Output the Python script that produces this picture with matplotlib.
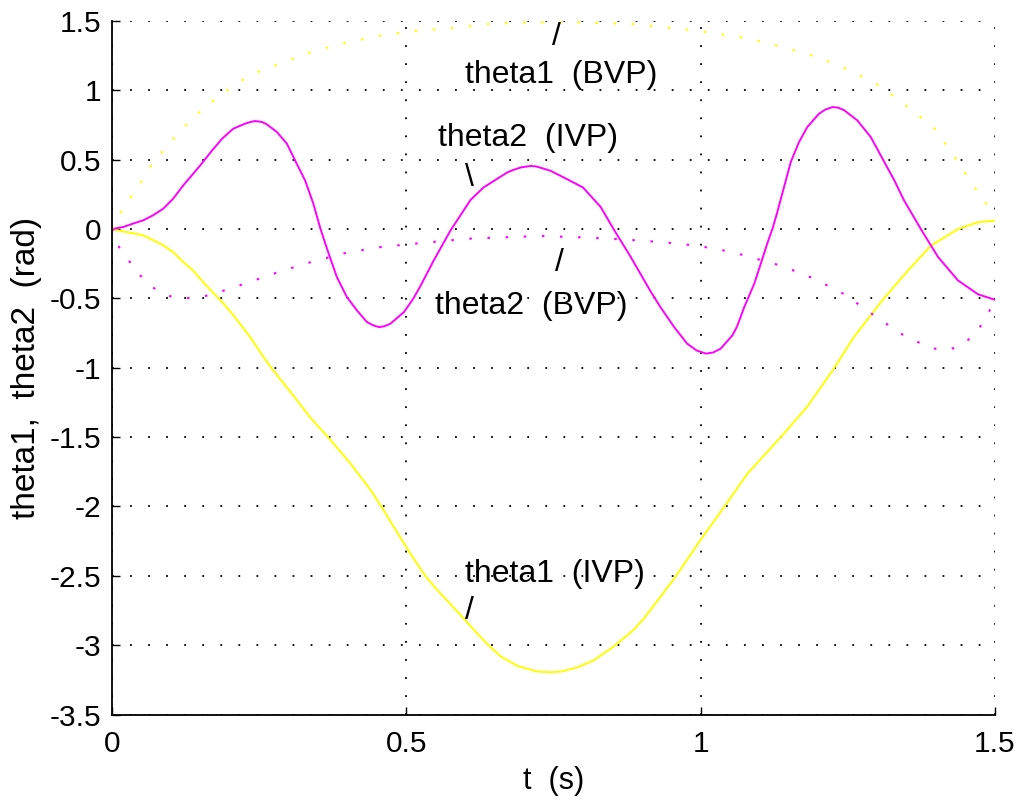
import numpy as np
import matplotlib
matplotlib.use('Agg')
import matplotlib.pyplot as plt

plt.rcParams['font.family'] = ['Liberation Sans', 'DejaVu Sans']

# joint angles from the two solutions (t in s, angles in rad)
t_th1_ivp = [0.000, 0.019, 0.036, 0.053, 0.070, 0.087, 0.104, 0.121, 0.138, 0.155,
             0.172, 0.190, 0.206, 0.235, 0.257, 0.274, 0.308, 0.337, 0.371, 0.405,
             0.439, 0.459, 0.479, 0.498, 0.513, 0.524, 0.535, 0.552, 0.575, 0.598,
             0.617, 0.637, 0.660, 0.689, 0.722, 0.745, 0.764, 0.790, 0.818, 0.852,
             0.886, 0.905, 0.955, 1.000, 1.037, 1.080, 1.136, 1.181, 1.224, 1.260,
             1.311, 1.352, 1.391, 1.437, 1.471, 1.500]
th1_ivp = [0.00, -0.017, -0.03, -0.045, -0.08, -0.117, -0.166, -0.238, -0.30, -0.383,
           -0.46, -0.54, -0.62, -0.78, -0.92, -1.02, -1.20, -1.36, -1.52, -1.69,
           -1.88, -2.01, -2.15, -2.28, -2.38, -2.45, -2.515, -2.60, -2.705, -2.81,
           -2.90, -2.99, -3.08, -3.15, -3.19, -3.195, -3.19, -3.16, -3.11, -3.01,
           -2.89, -2.80, -2.52, -2.24, -2.02, -1.76, -1.50, -1.28, -1.02, -0.78,
           -0.50, -0.30, -0.12, 0.00, 0.05, 0.06]

t_th2_ivp = [0.000, 0.019, 0.036, 0.053, 0.070, 0.087, 0.104, 0.121, 0.133, 0.150,
             0.170, 0.187, 0.206, 0.226, 0.235, 0.243, 0.255, 0.263, 0.280, 0.297,
             0.311, 0.328, 0.342, 0.354, 0.368, 0.382, 0.399, 0.416, 0.433, 0.444,
             0.454, 0.463, 0.473, 0.496, 0.512, 0.524, 0.546, 0.575, 0.609, 0.631,
             0.672, 0.684, 0.695, 0.711, 0.720, 0.730, 0.745, 0.773, 0.800, 0.830,
             0.852, 0.881, 0.915, 0.932, 0.955, 0.977, 0.993, 1.009, 1.021, 1.034,
             1.054, 1.062, 1.074, 1.091, 1.102, 1.113, 1.122, 1.130, 1.142, 1.153,
             1.167, 1.181, 1.201, 1.212, 1.224, 1.234, 1.244, 1.266, 1.289, 1.312,
             1.329, 1.345, 1.374, 1.403, 1.437, 1.471, 1.500]
th2_ivp = [0.00, 0.015, 0.04, 0.063, 0.10, 0.147, 0.22, 0.315, 0.375, 0.46,
           0.567, 0.652, 0.724, 0.760, 0.772, 0.779, 0.772, 0.755, 0.70, 0.616,
           0.495, 0.351, 0.183, 0.003, -0.177, -0.346, -0.49, -0.586, -0.67, -0.695,
           -0.707, -0.70, -0.682, -0.598, -0.50, -0.41, -0.23, -0.01, 0.21, 0.30,
           0.41, 0.43, 0.445, 0.455, 0.452, 0.44, 0.42, 0.36, 0.30, 0.16,
           0.00, -0.20, -0.45, -0.565, -0.707, -0.826, -0.875, -0.898, -0.89, -0.862,
           -0.766, -0.70, -0.562, -0.394, -0.25, -0.105, 0.003, 0.12, 0.31, 0.483,
           0.627, 0.735, 0.832, 0.862, 0.880, 0.875, 0.856, 0.784, 0.663, 0.483,
           0.351, 0.21, 0.00, -0.20, -0.37, -0.47, -0.51]

t_th1_bvp = [0.000, 0.014, 0.031, 0.048, 0.065, 0.082, 0.102, 0.121, 0.145, 0.167,
             0.189, 0.212, 0.235, 0.263, 0.291, 0.320, 0.348, 0.405, 0.461, 0.518,
             0.580, 0.643, 0.705, 0.790, 0.881, 0.971, 1.029, 1.085, 1.141, 1.199,
             1.250, 1.306, 1.352, 1.396, 1.430, 1.459, 1.481, 1.500]
th1_bvp = [0.00, 0.115, 0.226, 0.33, 0.45, 0.54, 0.64, 0.73, 0.83, 0.91,
           0.98, 1.05, 1.11, 1.16, 1.20, 1.25, 1.29, 1.35, 1.40, 1.43,
           1.45, 1.48, 1.49, 1.49, 1.48, 1.44, 1.41, 1.37, 1.31, 1.24,
           1.15, 1.03, 0.88, 0.73, 0.53, 0.34, 0.21, 0.08]

t_th2_bvp = [0.000, 0.012, 0.029, 0.048, 0.069, 0.093, 0.121, 0.152, 0.178, 0.235,
             0.286, 0.342, 0.399, 0.456, 0.515, 0.603, 0.660, 0.728, 0.800, 0.870,
             0.937, 0.995, 1.054, 1.139, 1.193, 1.244, 1.292, 1.340, 1.391, 1.422,
             1.447, 1.471, 1.488, 1.500]
th2_bvp = [0.00, -0.13, -0.23, -0.335, -0.42, -0.48, -0.50, -0.49, -0.46, -0.38,
           -0.305, -0.233, -0.17, -0.13, -0.105, -0.07, -0.06, -0.05, -0.06, -0.075,
           -0.095, -0.12, -0.166, -0.267, -0.358, -0.47, -0.615, -0.754, -0.86, -0.87,
           -0.83, -0.73, -0.61, -0.51]

xticks = [0, 0.5, 1, 1.5]
xtick_labels = ['0', '0.5', '1', '1.5']
yticks = [-3.5, -3, -2.5, -2, -1.5, -1, -0.5, 0, 0.5, 1, 1.5]
ytick_labels = ['-3.5', '-3', '-2.5', '-2', '-1.5', '-1', '-0.5', '0', '0.5', '1', '1.5']

# curve annotations: (text, t, angle) with the text baseline at the angle
notes = [('/', 0.748, 1.33),
         ('theta1  (BVP)', 0.600, 1.05),
         ('theta2  (IVP)', 0.553, 0.60),
         ('\\', 0.600, 0.31),
         ('/', 0.752, -0.30),
         ('theta2  (BVP)', 0.549, -0.61),
         ('theta1  (IVP)', 0.600, -2.545),
         ('/', 0.600, -2.81)]

fig = plt.figure(figsize=(10.24, 8.09), dpi=100)
ax = fig.add_axes([0.1094, 0.1168, 0.8623, 0.8572])

dots = (0, (1.2, 7.5))
ax.plot(t_th1_ivp, th1_ivp, color='#ffff00', lw=1.4)
ax.plot(t_th2_ivp, th2_ivp, color='#ff00ff', lw=1.4)
ax.plot(t_th1_bvp, th1_bvp, color='#ffff00', lw=1.5, linestyle=dots)
ax.plot(t_th2_bvp, th2_bvp, color='#ff00ff', lw=1.5, linestyle=dots)

for s, tx, ty in notes:
    ax.text(tx, ty, s, fontsize=23, ha='left', va='baseline', color='black')

ax.set_xlim(0, 1.5)
ax.set_ylim(-3.5, 1.5)
ax.set_xticks(xticks)
ax.set_xticklabels(xtick_labels)
ax.set_yticks(yticks)
ax.set_yticklabels(ytick_labels)
ax.tick_params(direction='in', length=6, width=1, labelsize=21.5, color='black')
ax.tick_params(axis='x', pad=11.5)
ax.tick_params(axis='y', pad=8)

ax.grid(True, color='black', linestyle=(0, (1, 9)), linewidth=1.3)
ax.set_axisbelow(True)
for side in ['top', 'right']:
    ax.spines[side].set_visible(False)
for side in ['left', 'bottom']:
    ax.spines[side].set_linewidth(1.3)

ax.set_xlabel('t  (s)', fontsize=22, va='center')
ax.xaxis.set_label_coords(0.5, -0.096)
ax.set_ylabel('theta1,  theta2  (rad)', fontsize=24, va='center')
ax.yaxis.set_label_coords(-0.0963, 0.5)

fig.savefig('out.png', dpi=100)
